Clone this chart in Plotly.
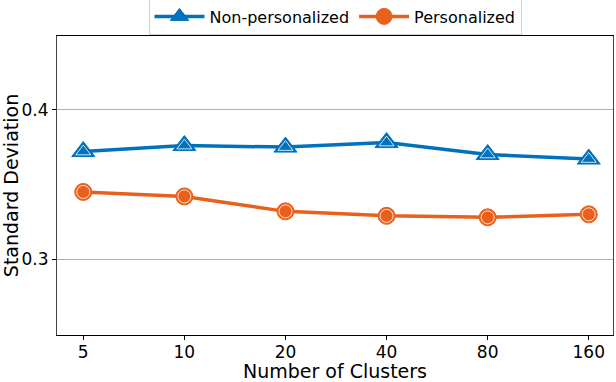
import plotly.graph_objects as go

clusters = ["5", "10", "20", "40", "80", "160"]
non_personalized = [0.372, 0.376, 0.375, 0.378, 0.370, 0.367]
personalized = [0.345, 0.342, 0.332, 0.329, 0.328, 0.330]

blue = "#0072BD"
orange = "#E8601C"
font = "DejaVu Sans"

fig = go.Figure()
fig.add_trace(go.Scatter(
    x=clusters, y=non_personalized, mode="lines+markers", name="Non-personalized",
    line=dict(color=blue, width=3.5),
    marker=dict(symbol="triangle-up", size=20, color=blue, line=dict(color=blue, width=1)),
))
fig.add_trace(go.Scatter(
    x=clusters, y=non_personalized, mode="markers", showlegend=False, hoverinfo="skip",
    marker=dict(symbol="triangle-up-open", size=13, color="white", line=dict(color="white", width=0.8)),
))
fig.add_trace(go.Scatter(
    x=clusters, y=personalized, mode="lines+markers", name="Personalized",
    line=dict(color=orange, width=3.5),
    marker=dict(symbol="circle", size=17, color=orange, line=dict(color=orange, width=1)),
))
fig.add_trace(go.Scatter(
    x=clusters, y=personalized, mode="markers", showlegend=False, hoverinfo="skip",
    marker=dict(symbol="circle-open", size=13, color="white", line=dict(color="white", width=0.8)),
))

fig.update_layout(
    width=616, height=382,
    margin=dict(l=57, r=3, t=36, b=47, autoexpand=False),
    paper_bgcolor="white", plot_bgcolor="white",
    font=dict(family=font, size=17, color="black"),
    legend=dict(
        orientation="h", x=0.5, xanchor="center", y=1.005, yanchor="bottom",
        bordercolor="#d0d0d0", borderwidth=1, font=dict(size=16),
        itemwidth=50,
    ),
    xaxis=dict(
        type="category", range=[-0.26, 5.24],
        title=dict(text="Number of Clusters", font=dict(size=19), standoff=7),
        showline=True, linecolor="black", linewidth=1.2, mirror=True,
        ticks="outside", ticklen=4, tickcolor="black", showgrid=False,
        tickfont=dict(size=17), ticklabelstandoff=-3,
    ),
    yaxis=dict(
        range=[0.2493, 0.4493], tickvals=[0.3, 0.4], ticktext=["0.3", "0.4"],
        title=dict(text="Standard Deviation", font=dict(size=19), standoff=3),
        showline=True, linecolor="#444", linewidth=1.2, mirror=True,
        ticks="outside", ticklen=4, tickcolor="black",
        showgrid=True, gridcolor="#b0b0b0", gridwidth=1, zeroline=False,
        tickfont=dict(size=17),
    ),
)

fig.write_html(
    "out.html",
    config={"displayModeBar": False},
    post_script="document.body.style.margin='0';document.body.style.overflow='hidden';",
)
